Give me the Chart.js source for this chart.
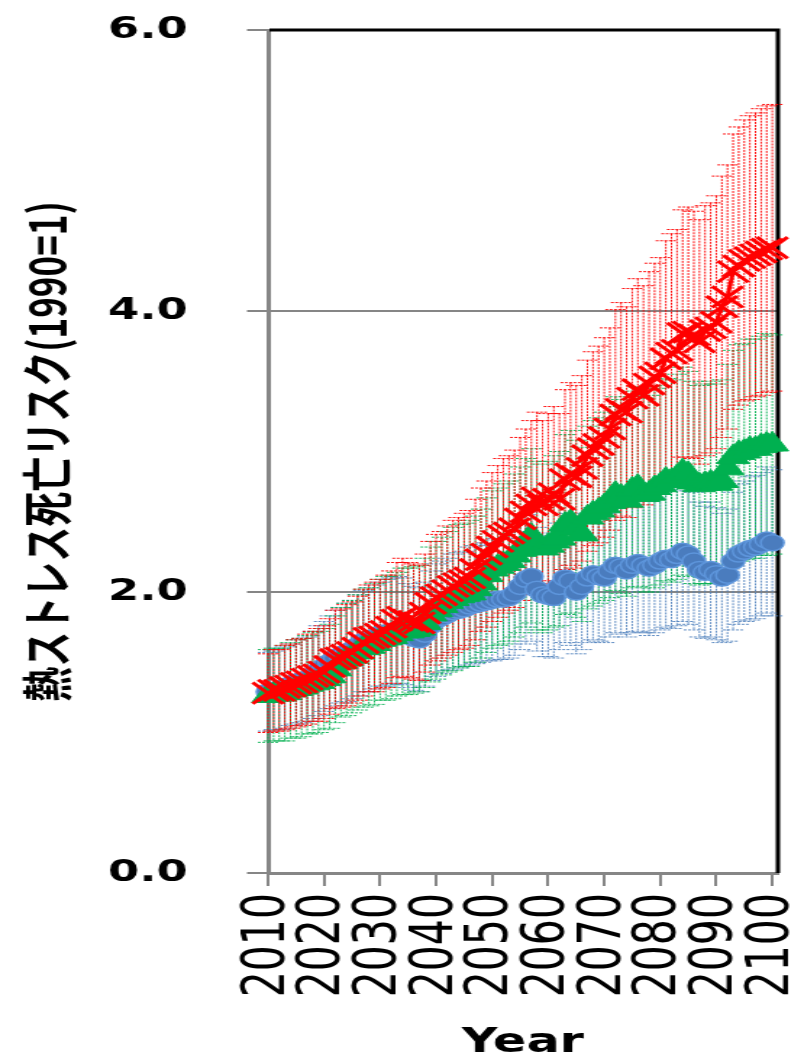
<!DOCTYPE html>
<html lang="ja">
<head>
<meta charset="utf-8">
<title>熱ストレス死亡リスク</title>
<script src="https://cdn.jsdelivr.net/npm/chart.js@4.4.1/dist/chart.umd.min.js"></script>
<style>
  html, body { margin: 0; padding: 0; background: #ffffff; }
  #wrap { width: 804px; height: 1054px; overflow: hidden; }
  /* the original picture is stretched sideways, so draw narrow and stretch */
  #riskChart { transform: scaleX(1.4486); transform-origin: 0 0; }
</style>
</head>
<body>
<div id="wrap"><canvas id="riskChart" width="555" height="1054"></canvas></div>
<script>
// Años (eje X)
const years = Array.from({ length: 91 }, (_, i) => 2010 + i);
const xTicks = [2010, 2020, 2030, 2040, 2050, 2060, 2070, 2080, 2090, 2100];
const yTicks = [0, 2, 4, 6];

// Serie azul (círculos)
const blueValues = [
    1.29, 1.30, 1.31, 1.32, 1.34, 1.36, 1.37, 1.38, 1.41, 1.44,
    1.47, 1.50, 1.53, 1.55, 1.57, 1.59, 1.62, 1.65, 1.66, 1.68,
    1.70, 1.71, 1.72, 1.73, 1.72, 1.69, 1.67, 1.66, 1.70, 1.76,
    1.80, 1.82, 1.84, 1.86, 1.87, 1.88, 1.90, 1.91, 1.92, 1.93,
    1.94, 1.95, 1.95, 1.96, 1.99, 2.04, 2.09, 2.11, 2.02, 1.98,
    1.97, 1.96, 2.04, 2.10, 2.08, 2.00, 2.04, 2.10, 2.13, 2.11,
    2.10, 2.15, 2.19, 2.18, 2.15, 2.19, 2.21, 2.19, 2.17, 2.19,
    2.22, 2.24, 2.23, 2.26, 2.29, 2.27, 2.22, 2.16, 2.14, 2.16,
    2.13, 2.10, 2.12, 2.22, 2.27, 2.29, 2.31, 2.32, 2.34, 2.37,
    2.35
];
const blueErr = [
    0.28, 0.28, 0.29, 0.29, 0.29, 0.30, 0.30, 0.30, 0.31, 0.32,
    0.32, 0.33, 0.34, 0.34, 0.35, 0.35, 0.36, 0.36, 0.37, 0.37,
    0.37, 0.38, 0.38, 0.38, 0.38, 0.37, 0.37, 0.37, 0.37, 0.39,
    0.40, 0.40, 0.40, 0.41, 0.41, 0.41, 0.42, 0.42, 0.42, 0.42,
    0.43, 0.43, 0.43, 0.43, 0.44, 0.45, 0.46, 0.46, 0.44, 0.44,
    0.43, 0.43, 0.45, 0.46, 0.46, 0.44, 0.45, 0.46, 0.47, 0.46,
    0.46, 0.47, 0.48, 0.48, 0.47, 0.48, 0.49, 0.48, 0.48, 0.48,
    0.49, 0.49, 0.49, 0.50, 0.50, 0.50, 0.49, 0.48, 0.47, 0.48,
    0.47, 0.46, 0.47, 0.49, 0.50, 0.50, 0.51, 0.51, 0.51, 0.52,
    0.52
];

// Serie verde (triángulos)
const greenValues = [
    1.26, 1.27, 1.27, 1.28, 1.30, 1.31, 1.32, 1.34, 1.35, 1.36,
    1.38, 1.40, 1.45, 1.50, 1.52, 1.54, 1.57, 1.60, 1.61, 1.63,
    1.66, 1.67, 1.68, 1.70, 1.72, 1.72, 1.73, 1.74, 1.78, 1.84,
    1.87, 1.90, 1.93, 1.95, 1.97, 1.98, 1.99, 2.02, 2.06, 2.12,
    2.16, 2.18, 2.20, 2.22, 2.26, 2.30, 2.35, 2.40, 2.33, 2.31,
    2.33, 2.36, 2.38, 2.48, 2.50, 2.45, 2.41, 2.53, 2.56, 2.58,
    2.61, 2.64, 2.70, 2.68, 2.65, 2.73, 2.75, 2.69, 2.70, 2.74,
    2.76, 2.80, 2.79, 2.82, 2.86, 2.84, 2.78, 2.76, 2.77, 2.78,
    2.77, 2.79, 2.88, 2.96, 2.99, 3.00, 3.02, 3.02, 3.04, 3.05,
    3.05
];
const greenErr = [
    0.33, 0.33, 0.33, 0.34, 0.34, 0.35, 0.35, 0.35, 0.36, 0.36,
    0.36, 0.37, 0.38, 0.39, 0.40, 0.40, 0.41, 0.42, 0.42, 0.43,
    0.43, 0.44, 0.44, 0.44, 0.45, 0.45, 0.45, 0.45, 0.46, 0.48,
    0.49, 0.49, 0.50, 0.51, 0.51, 0.51, 0.52, 0.52, 0.53, 0.55,
    0.56, 0.56, 0.57, 0.57, 0.58, 0.59, 0.60, 0.62, 0.60, 0.60,
    0.60, 0.61, 0.62, 0.64, 0.65, 0.63, 0.62, 0.65, 0.66, 0.66,
    0.67, 0.68, 0.69, 0.69, 0.68, 0.70, 0.71, 0.69, 0.70, 0.71,
    0.71, 0.72, 0.72, 0.73, 0.74, 0.73, 0.72, 0.71, 0.71, 0.72,
    0.71, 0.72, 0.74, 0.76, 0.77, 0.77, 0.78, 0.78, 0.78, 0.79,
    0.78
];

// Serie roja (cruces)
const redValues = [
    1.28, 1.30, 1.30, 1.32, 1.33, 1.35, 1.36, 1.38, 1.40, 1.41,
    1.43, 1.47, 1.52, 1.53, 1.55, 1.57, 1.60, 1.64, 1.67, 1.68,
    1.70, 1.72, 1.75, 1.80, 1.82, 1.80, 1.79, 1.78, 1.85, 1.92,
    1.96, 1.98, 2.01, 2.04, 2.06, 2.08, 2.10, 2.16, 2.23, 2.27,
    2.32, 2.36, 2.40, 2.42, 2.45, 2.52, 2.57, 2.62, 2.67, 2.62,
    2.66, 2.70, 2.66, 2.80, 2.84, 2.82, 2.88, 2.97, 3.02, 3.05,
    3.10, 3.16, 3.26, 3.30, 3.28, 3.38, 3.44, 3.40, 3.48, 3.53,
    3.56, 3.66, 3.70, 3.72, 3.84, 3.85, 3.83, 3.78, 3.86, 3.88,
    3.92, 4.03, 4.10, 4.28, 4.32, 4.36, 4.38, 4.40, 4.42, 4.44,
    4.45
];
const redErr = [
    0.28, 0.29, 0.29, 0.30, 0.30, 0.31, 0.31, 0.32, 0.32, 0.33,
    0.33, 0.34, 0.35, 0.35, 0.36, 0.36, 0.37, 0.38, 0.38, 0.39,
    0.39, 0.40, 0.40, 0.41, 0.42, 0.41, 0.41, 0.41, 0.42, 0.44,
    0.45, 0.45, 0.46, 0.47, 0.47, 0.48, 0.48, 0.50, 0.51, 0.52,
    0.53, 0.54, 0.55, 0.55, 0.56, 0.58, 0.59, 0.60, 0.61, 0.60,
    0.61, 0.62, 0.61, 0.64, 0.65, 0.65, 0.66, 0.68, 0.69, 0.70,
    0.71, 0.72, 0.75, 0.76, 0.75, 0.78, 0.79, 0.78, 0.80, 0.81,
    0.82, 0.84, 0.85, 0.86, 0.88, 0.89, 0.88, 0.87, 0.89, 0.89,
    0.90, 0.93, 0.94, 0.98, 0.99, 1.00, 1.01, 1.01, 1.02, 1.02,
    1.02
];

const AXIS_GRAY = '#868686';

function toPoints(values) {
    return values.map((v, i) => ({ x: years[i], y: v }));
}

// Marco negro + barras de error (debajo de los marcadores)
const errorBarsPlugin = {
    id: 'errorBars',
    beforeDatasetsDraw(chart) {
        const { ctx, chartArea } = chart;
        const xs = chart.scales.x;
        const ys = chart.scales.y;

        ctx.save();
        ctx.strokeStyle = '#000000';
        ctx.lineWidth = 3;
        ctx.beginPath();
        ctx.moveTo(chartArea.left + 1, chartArea.top);
        ctx.lineTo(chartArea.right, chartArea.top);
        ctx.lineTo(chartArea.right, chartArea.bottom);
        ctx.stroke();

        ctx.lineWidth = 1;
        ctx.setLineDash([2, 1]);
        // azul, verde, rojo
        [0, 1, 2].forEach(di => {
            const ds = chart.data.datasets[di];
            ctx.strokeStyle = ds.errorColor;
            ds.data.forEach((p, i) => {
                const e = ds.errors[i];
                const px = xs.getPixelForValue(p.x);
                const top = ys.getPixelForValue(p.y + e);
                const bot = ys.getPixelForValue(p.y - e);
                ctx.beginPath();
                ctx.moveTo(px, top); ctx.lineTo(px, bot);
                ctx.moveTo(px - 7, top); ctx.lineTo(px + 7, top);
                ctx.moveTo(px - 7, bot); ctx.lineTo(px + 7, bot);
                ctx.stroke();
            });
        });
        ctx.restore();
    }
};

const ctx = document.getElementById('riskChart');
new Chart(ctx, {
    type: 'line',
    data: {
        datasets: [
            {
                label: 'low',
                data: toPoints(blueValues),
                errors: blueErr,
                errorColor: 'rgba(79, 129, 189, 0.9)',
                borderColor: '#4F81BD',
                borderWidth: 3,
                pointStyle: 'circle',
                pointRadius: 8,
                pointBorderWidth: 1.5,
                pointBackgroundColor: '#4A7CBE',
                pointBorderColor: '#5E96DC',
                order: 3,
                clip: false
            },
            {
                label: 'mid',
                data: toPoints(greenValues),
                errors: greenErr,
                errorColor: 'rgba(0, 176, 80, 0.9)',
                borderColor: '#00B050',
                borderWidth: 3,
                pointStyle: 'triangle',
                pointRadius: 13,
                pointBorderWidth: 1,
                pointBackgroundColor: '#00B050',
                pointBorderColor: '#00B050',
                order: 2,
                clip: false
            },
            {
                label: 'high',
                data: toPoints(redValues),
                errors: redErr,
                errorColor: 'rgba(255, 0, 0, 0.95)',
                borderColor: '#FF0000',
                borderWidth: 3,
                pointStyle: 'crossRot',
                pointRadius: 15,
                pointBorderWidth: 3,
                pointBackgroundColor: '#FF0000',
                pointBorderColor: '#FF0000',
                order: 1,
                clip: false
            }
        ]
    },
    options: {
        responsive: false,
        animation: false,
        devicePixelRatio: 1,
        events: [],
        layout: { padding: { top: 30, right: 17, left: 0, bottom: 0 } },
        plugins: {
            legend: { display: false },
            tooltip: { enabled: false }
        },
        scales: {
            x: {
                type: 'linear',
                min: 2010,
                max: 2101,
                afterBuildTicks: s => { s.ticks = xTicks.map(v => ({ value: v })); },
                afterFit: s => { s.height = 181; s.paddingLeft = 0; s.paddingRight = 0; },
                ticks: {
                    includeBounds: false,
                    autoSkip: false,
                    minRotation: 90,
                    maxRotation: 90,
                    padding: 7,
                    color: '#000000',
                    font: { family: 'DejaVu Sans', size: 41 },
                    callback: v => String(v)
                },
                grid: {
                    display: true,
                    drawOnChartArea: false,
                    drawTicks: true,
                    tickLength: 13,
                    color: AXIS_GRAY,
                    lineWidth: 2
                },
                border: { display: true, color: AXIS_GRAY, width: 3 },
                title: {
                    display: true,
                    text: 'Year',
                    color: '#000000',
                    font: { family: 'DejaVu Sans', size: 34, weight: 'bold', lineHeight: 1.0 },
                    padding: { top: 0, bottom: -6 }
                }
            },
            y: {
                min: 0,
                max: 6,
                afterBuildTicks: s => { s.ticks = yTicks.map(v => ({ value: v })); },
                afterFit: s => { s.width = 185; s.paddingTop = 0; s.paddingBottom = 0; },
                ticks: {
                    padding: 41,
                    color: '#000000',
                    font: { family: 'DejaVu Sans', size: 31, weight: 'bold' },
                    callback: v => Number(v).toFixed(1)
                },
                grid: {
                    color: AXIS_GRAY,
                    lineWidth: 2,
                    tickLength: 14.5
                },
                border: { display: true, color: AXIS_GRAY, width: 3 },
                title: {
                    display: true,
                    text: '熱ストレス死亡リスク(1990=1)',
                    color: '#000000',
                    font: { family: 'Noto Sans CJK JP', size: 35, weight: 'bold' },
                    padding: { top: 12, bottom: 0 }
                }
            }
        }
    },
    plugins: [errorBarsPlugin]
});
console.log('chart listo');
</script>
</body>
</html>
